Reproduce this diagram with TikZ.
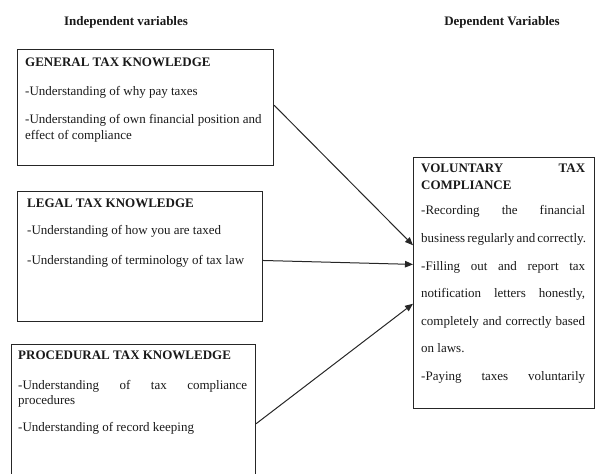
\documentclass[tikz,border=0pt]{standalone}
\usepackage{fontspec}
\setmainfont{Liberation Serif}
\usetikzlibrary{arrows.meta,calc}
\newcommand{\jl}[2]{\makebox[#1pt][s]{#2}}
\begin{document}
\begin{tikzpicture}[x=1pt,y=-1pt,
  box/.style={draw=black!85,line width=1.1pt,rectangle,inner sep=0pt,anchor=north west},
  txt/.style={anchor=base west,inner sep=0pt,text=black!90,font=\fontsize{13}{15}\selectfont},
  hd/.style={anchor=base west,inner sep=0pt,text=black!90,font=\fontsize{13}{15}\selectfont\bfseries},
  arr/.style={draw=black!85,line width=1pt,-{Triangle[length=8pt,width=6.5pt]}}]
\useasboundingbox (0,0) rectangle (595,474);
% column headings
\node[hd,anchor=base] (hi) at (126,25) {Independent variables};
\node[hd,anchor=base] (hdv) at (502,25) {Dependent Variables};
% boxes
\node[box,minimum width=256pt,minimum height=116pt] (b1) at (17,49) {};
\node[box,minimum width=245pt,minimum height=130pt] (b2) at (17,191) {};
\node[box,minimum width=244pt,minimum height=140pt] (b3) at (11,344) {};
\node[box,minimum width=181pt,minimum height=251pt] (b4) at (413,157) {};
% box 1 text
\node[hd]  (t11) at (25,66) {GENERAL TAX KNOWLEDGE};
\node[txt] (t12) at (25,95) {-Understanding of why pay taxes};
\node[txt] (t13) at (25,123) {-Understanding of own financial position and};
\node[txt] (t14) at (25,139) {effect of compliance};
% box 2 text
\node[hd]  (t21) at (27,207) {LEGAL TAX KNOWLEDGE};
\node[txt] (t22) at (27,234) {-Understanding of how you are taxed};
\node[txt] (t23) at (27,264) {-Understanding of terminology of tax law};
% box 3 text
\node[hd]  (t31) at (18,359) {PROCEDURAL TAX KNOWLEDGE};
\node[txt] (t32) at (18,389) {\jl{229}{-Understanding of tax compliance}};
\node[txt] (t33) at (18,404) {procedures};
\node[txt] (t34) at (18,431) {-Understanding of record keeping};
% box 4 text
\node[hd]  (t41) at (421,172) {\jl{164}{VOLUNTARY TAX}};
\node[hd]  (t42) at (421,189) {COMPLIANCE};
\node[txt] (t43) at (421,214) {\jl{164}{-Recording the financial}};
\node[txt] (t44) at (421,242) {\jl{164}{business regularly and correctly.}};
\node[txt] (t45) at (421,270) {\jl{164}{-Filling out and report tax}};
\node[txt] (t46) at (421,297) {\jl{164}{notification letters honestly,}};
\node[txt] (t47) at (421,325) {\jl{164}{completely and correctly based}};
\node[txt] (t48) at (421,352) {on laws.};
\node[txt] (t49) at (421,380) {\jl{164}{-Paying taxes voluntarily}};
% connectors
\coordinate (s1) at ($(b1.north east)!0.48!(b1.south east)$);
\coordinate (s2) at ($(b2.north east)!0.53!(b2.south east)$);
\coordinate (s3) at ($(b3.north east)!0.565!(b3.south east)$);
\coordinate (e1) at ($(b4.north west)!0.35!(b4.south west)$);
\coordinate (e2) at ($(b4.north west)!0.426!(b4.south west)$);
\coordinate (e3) at ($(b4.north west)!0.582!(b4.south west)$);
\draw[arr] (s1) -- (e1);
\draw[arr] (s2) -- (e2);
\draw[arr] (s3) -- (e3);
\end{tikzpicture}
\end{document}
